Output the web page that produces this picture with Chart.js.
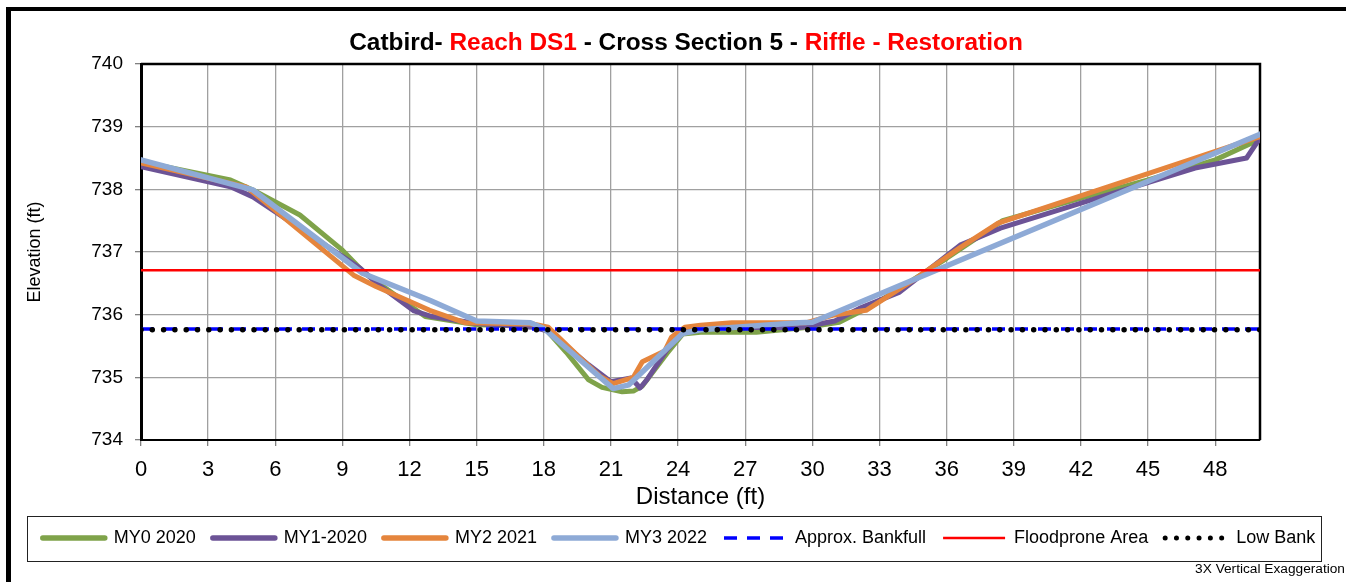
<!DOCTYPE html>
<html>
<head>
<meta charset="utf-8">
<script src="https://cdn.jsdelivr.net/npm/chart.js@4.4.0/dist/chart.umd.min.js"></script>
<style>
  html, body { margin: 0; padding: 0; background: #fff; }
  body { width: 1346px; height: 582px; overflow: hidden; position: relative; font-family: "Liberation Sans", Arial, sans-serif; }
  #frame { position: absolute; left: 6px; top: 7px; width: 1400px; height: 700px; border-left: 5px solid #000; border-top: 4px solid #000; }
  #grafico { position: absolute; left: 0; top: 0; }
  #titulo { position: absolute; left: 0; width: 1372px; top: 30px; text-align: center; font-weight: bold; font-size: 24.4px; line-height: 24.4px; white-space: nowrap; color: #000; }
  #titulo .red { color: #ff0000; }
  #nota { position: absolute; right: 1px; top: 562px; font-size: 13.7px; line-height: 13.7px; white-space: nowrap; color: #000; }
</style>
</head>
<body>
<div id="frame"></div>
<canvas id="grafico" width="1346" height="582"></canvas>
<div id="titulo">Catbird- <span class="red">Reach DS1</span> - Cross Section 5 - <span class="red">Riffle - Restoration</span></div>
<div id="nota">3X Vertical Exaggeration</div>
<script>
// distancia (ft) e elevacao (ft) de cada levantamento
const distMY0 = [0, 4, 5, 7.1, 9, 10, 12.7, 15, 17.5, 18.1, 19, 20, 20.6, 21.5, 22, 22.4, 23.5, 24.2, 25, 27.5, 29.6, 31.2, 32.7, 36, 38.5, 42, 45, 48, 50];
const elevMY0 = [738.44, 738.15, 737.99, 737.59, 737.03, 736.66, 735.97, 735.84, 735.82, 735.76, 735.4, 734.96, 734.84, 734.77, 734.78, 734.86, 735.38, 735.69, 735.72, 735.72, 735.79, 735.88, 736.15, 736.9, 737.5, 737.86, 738.15, 738.47, 738.8];

const distMY1 = [0, 4, 5, 9.8, 10.6, 12.2, 13, 15, 17.5, 18.2, 19, 20, 21, 21.9, 22.3, 22.6, 23.5, 24.2, 25, 27, 29.4, 31, 32.1, 33.9, 36.6, 38.4, 42, 47.1, 49.4, 50];
const elevMY1 = [738.36, 738.04, 737.88, 736.74, 736.48, 736.06, 735.97, 735.86, 735.8, 735.74, 735.5, 735.2, 734.93, 734.99, 734.83, 734.96, 735.44, 735.72, 735.78, 735.8, 735.79, 735.9, 736.1, 736.36, 737.11, 737.38, 737.78, 738.34, 738.5, 738.82];

const distMY2 = [0, 4.7, 5.8, 9.5, 10.5, 12.9, 14.5, 17.5, 18.2, 19.5, 20.5, 21.1, 22, 22.4, 23.4, 23.7, 24.3, 25, 26.4, 29.7, 30.9, 32.4, 34.5, 36.6, 38.3, 50];
const elevMY2 = [738.42, 738.04, 737.72, 736.63, 736.45, 736.07, 735.87, 735.85, 735.8, 735.35, 735.02, 734.9, 735.0, 735.25, 735.42, 735.64, 735.8, 735.83, 735.87, 735.87, 735.99, 736.07, 736.55, 737.07, 737.46, 738.84];

const distMY3 = [0, 5, 9.9, 12.9, 15, 17.4, 18, 21.1, 21.8, 24.2, 25, 29.4, 30, 50];
const elevMY3 = [738.47, 737.99, 736.66, 736.23, 735.9, 735.87, 735.78, 734.82, 734.88, 735.7, 735.76, 735.87, 735.88, 738.88];

// linhas de referencia
const distRef = [0, 50];
const elevBankfull = [735.77, 735.77];
const elevFloodprone = [736.71, 736.71];
const elevLowBank = [735.76, 735.76];

const rotulos = ['MY0 2020', 'MY1-2020', 'MY2 2021', 'MY3 2022', 'Approx. Bankfull', 'Floodprone Area', 'Low Bank'];

function pontos(xs, ys) {
  return xs.map((x, i) => ({ x: x, y: ys[i] }));
}

function serie(label, xs, ys, cor, largura, ordem) {
  return {
    label: label,
    data: pontos(xs, ys),
    borderColor: cor,
    backgroundColor: cor,
    borderWidth: largura,
    borderCapStyle: 'round',
    borderJoinStyle: 'round',
    pointRadius: 0,
    tension: 0,
    fill: false,
    order: ordem
  };
}

const datasets = [
  serie(rotulos[0], distMY0, elevMY0, '#7fa34a', 5, 7),
  serie(rotulos[1], distMY1, elevMY1, '#6c5396', 5, 6),
  serie(rotulos[2], distMY2, elevMY2, '#e5853d', 5, 5),
  serie(rotulos[3], distMY3, elevMY3, '#8eaad6', 5.5, 4),
  Object.assign(serie(rotulos[4], distRef, elevBankfull, '#0000ff', 3.5, 3), { borderDash: [13, 10], borderCapStyle: 'butt' }),
  Object.assign(serie(rotulos[5], distRef, elevFloodprone, '#ff0000', 2.5, 2), { borderCapStyle: 'butt' }),
  Object.assign(serie(rotulos[6], distRef, elevLowBank, '#000000', 5.5, 1), { borderDash: [0, 11.3] })
];

const moldura = {
  id: 'moldura',
  beforeDatasetsDraw(chart) {
    const a = chart.chartArea;
    const c = chart.ctx;
    c.save();
    c.strokeStyle = '#000';
    c.lineWidth = 2.5;
    c.beginPath();
    c.moveTo(a.left, a.top);
    c.lineTo(a.right, a.top);
    c.lineTo(a.right, a.bottom);
    c.stroke();
    c.restore();
  },
  afterDraw(chart) {
    const c = chart.ctx;
    c.save();
    c.strokeStyle = '#222';
    c.lineWidth = 1;
    c.strokeRect(27.5, 516.5, 1294, 45);
    c.restore();
  }
};

Chart.defaults.font.family = '"Liberation Sans", Arial, sans-serif';
Chart.defaults.color = '#000';

const grafico = new Chart(document.getElementById('grafico').getContext('2d'), {
  type: 'line',
  data: { datasets: datasets },
  options: {
    responsive: false,
    animation: false,
    layout: { padding: { left: 12, right: 0, top: 64, bottom: 25 } },
    plugins: {
      title: { display: false },
      tooltip: { enabled: false },
      legend: {
        position: 'bottom',
        labels: {
          usePointStyle: true,
          pointStyleWidth: 62,
          boxHeight: 18,
          padding: 17,
          font: { size: 18 },
          color: '#000',
          generateLabels: chart => chart.data.datasets.map((ds, i) => ({
            text: ds.label,
            strokeStyle: ds.borderColor,
            fillStyle: ds.borderColor,
            lineWidth: ds.label === 'Low Bank' ? 5 : (ds.borderWidth < 3 ? 2.5 : (ds.borderDash ? 3.5 : 5.5)),
            lineDash: ds.borderDash || [],
            lineCap: ds.borderCapStyle,
            pointStyle: 'line',
            hidden: false,
            fontColor: '#000',
            datasetIndex: i
          }))
        }
      }
    },
    scales: {
      x: {
        type: 'linear',
        min: 0,
        max: 50,
        ticks: { stepSize: 3, includeBounds: false, autoSkip: false, maxRotation: 0, padding: 11, font: { size: 22 }, color: '#000' },
        grid: { color: '#a0a0a0', lineWidth: 1.3, tickLength: 6, tickColor: '#808080' },
        border: { color: '#000', width: 2 },
        title: { display: true, text: 'Distance (ft)', font: { size: 24 }, color: '#000', padding: { top: 0, bottom: 0 } },
        afterFit: s => { s.height = 72; }
      },
      y: {
        min: 734,
        max: 740,
        ticks: { stepSize: 1, padding: 12, font: { size: 19 }, color: '#000' },
        grid: { color: '#a0a0a0', lineWidth: 1.3, tickLength: 6, tickColor: '#808080' },
        border: { color: '#000', width: 3 },
        title: { display: true, text: 'Elevation (ft)', font: { size: 18 }, color: '#000', padding: { top: 12, bottom: 0 } },
        afterFit: s => { s.width = 129; }
      },
      yR: {
        position: 'right',
        grid: { display: false },
        ticks: { display: false },
        border: { display: false },
        afterFit: s => { s.width = 86; }
      }
    }
  },
  plugins: [moldura]
});
</script>
</body>
</html>
